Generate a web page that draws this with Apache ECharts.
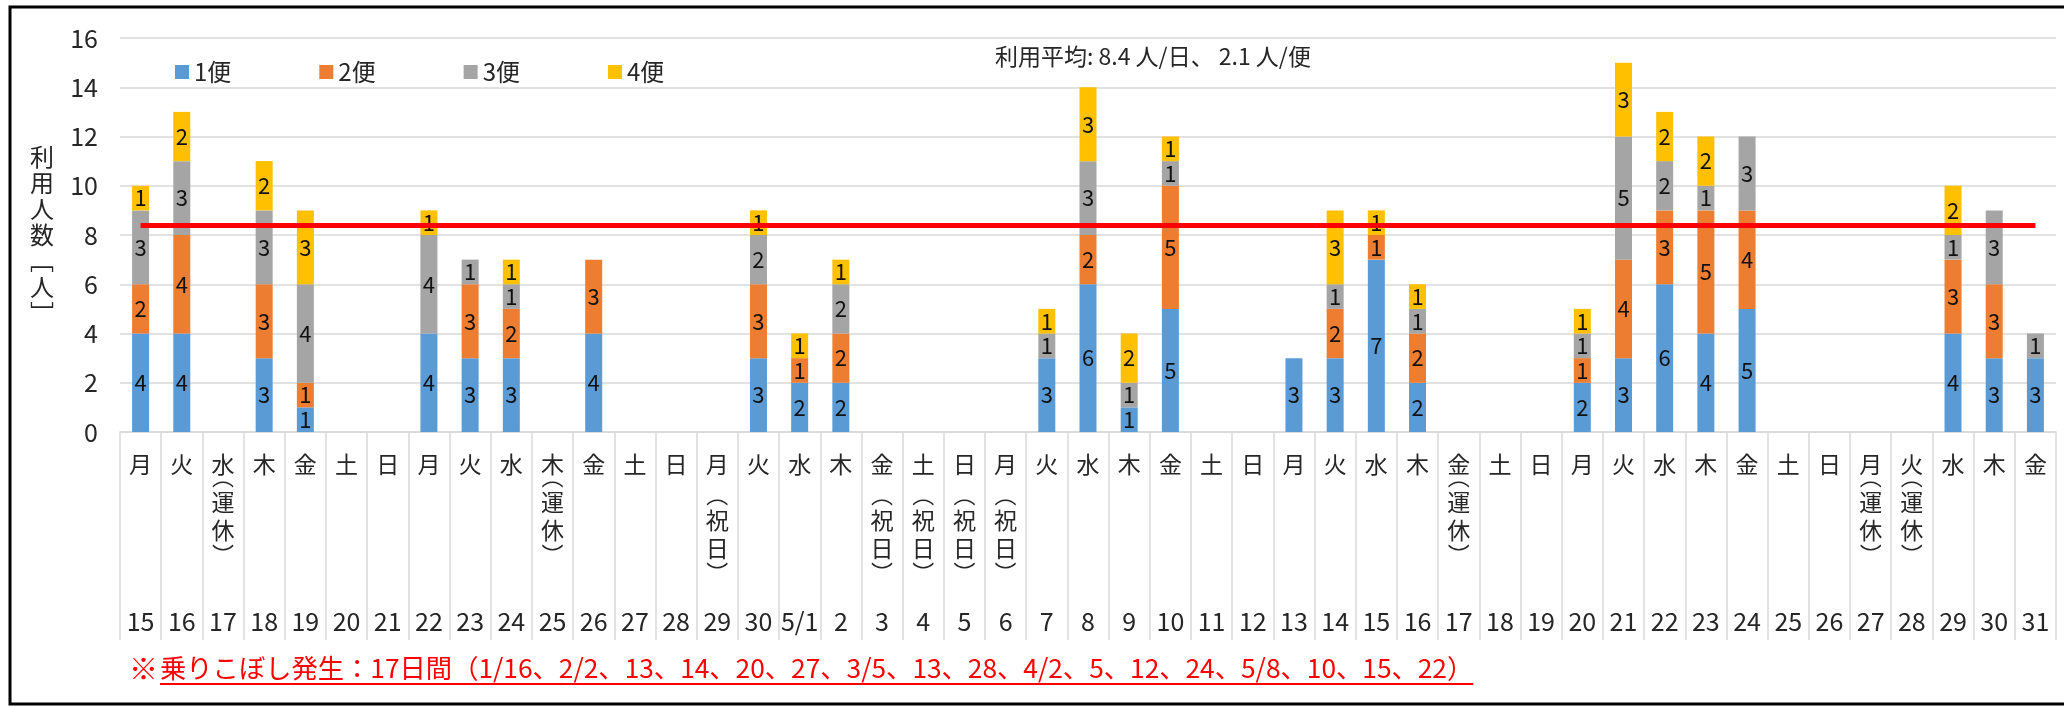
<!DOCTYPE html>
<html>
<head>
<meta charset="utf-8">
<script src="https://cdn.jsdelivr.net/npm/echarts@6/dist/echarts.min.js"></script>
<style>
  html, body { margin: 0; padding: 0; background: #fff; }
  #chart { width: 2064px; height: 707px; }
</style>
</head>
<body>
<div id="chart"></div>
<script>
// Dates (4/15 – 5/31) shown along the bottom of the category axis
const dates = ['15','16','17','18','19','20','21','22','23','24','25','26','27','28','29','30',
  '5/1','2','3','4','5','6','7','8','9','10','11','12','13','14','15','16','17','18','19','20',
  '21','22','23','24','25','26','27','28','29','30','31'];
const weekdays = ['月','火','水','木','金','土','日','月','火','水','木','金','土','日',
  '月','火','水','木','金','土','日','月','火','水','木','金','土','日',
  '月','火','水','木','金','土','日','月','火','水','木','金','土','日',
  '月','火','水','木','金'];
const notes = ['','','運休','','','','','','','','運休','','','','祝日','','','','祝日','祝日','祝日','祝日',
  '','','','','','','','','','','運休','','','','','','','','','','運休','運休','','',''];

// Passengers per departure (1便〜4便)
const flight1 = [4,4,0,3,1,0,0,4,3,3,0,4,0,0,0,3,2,2,0,0,0,0,3,6,1,5,0,0,3,3,7,2,0,0,0,2,3,6,4,5,0,0,0,0,4,3,3];
const flight2 = [2,4,0,3,1,0,0,0,3,2,0,3,0,0,0,3,1,2,0,0,0,0,0,2,0,5,0,0,0,2,1,2,0,0,0,1,4,3,5,4,0,0,0,0,3,3,0];
const flight3 = [3,3,0,3,4,0,0,4,1,1,0,0,0,0,0,2,0,2,0,0,0,0,1,3,1,1,0,0,0,1,0,1,0,0,0,1,5,2,1,3,0,0,0,0,1,3,1];
const flight4 = [1,2,0,2,3,0,0,1,0,1,0,0,0,0,0,1,1,1,0,0,0,0,1,3,2,1,0,0,0,3,1,1,0,0,0,1,3,2,2,0,0,0,0,0,2,0,0];

const seriesNames = ['1便','2便','3便','4便'];
const seriesColors = ['#5B9BD5','#ED7D31','#A5A5A5','#FFC000'];
const avgPerDay = 8.4;
const avgPerFlight = 2.1;
const yTicks = { min: 0, max: 16, interval: 2 };

const footHead = '※';
const footBody = '乗りこぼし発生：17日間（1/16、2/2、13、14、20、27、3/5、13、28、4/2、5、12、24、5/8、10、15、22）';

const FONT = '"Noto Sans CJK JP", "Noto Sans", sans-serif';
const TEXT = '#262626';

const chart = echarts.init(document.getElementById('chart'), null, { renderer: 'canvas' });

function measure(text, size) {
  const c = document.createElement('canvas').getContext('2d');
  c.font = size + 'px ' + FONT;
  return c.measureText(text).width;
}

const footSize = 26.3;
const footX = 160;
const footW = measure(footBody, footSize);

const barLabel = {
  show: true,
  position: 'inside',
  color: '#111',
  fontSize: 22,
  fontFamily: FONT,
  formatter: p => (p.value ? String(p.value) : '')
};

const seriesData = [flight1, flight2, flight3, flight4];
const series = seriesData.map((d, i) => ({
  name: seriesNames[i],
  type: 'bar',
  stack: 'total',
  barWidth: 17,
  data: d,
  itemStyle: { color: seriesColors[i] },
  label: barLabel,
  emphasis: { disabled: true }
}));

// Daily average line across the period
series[3].markLine = {
  silent: true,
  symbol: 'none',
  label: { show: false },
  lineStyle: { color: '#FF0000', width: 5, type: 'solid' },
  data: [[{ coord: [0, avgPerDay] }, { coord: [dates.length - 1, avgPerDay] }]]
};

function noteText(v, i) {
  const n = notes[i];
  if (!n) return '';
  const chars = n.split('');
  const body = '{p|︵}\n' + chars.map(c => '{c|' + c + '}').join('\n') + '\n{q|︶}';
  return n === '祝日' ? '{s| }\n' + body : body;
}

const gridLine = '#D9D9D9';

const option = {
  animation: false,
  backgroundColor: '#fff',
  textStyle: { fontFamily: FONT },
  title: {
    text: '利用平均: ' + avgPerDay + ' 人/日、 ' + avgPerFlight + ' 人/便',
    left: 990,
    top: 40,
    textStyle: { fontSize: 23, fontWeight: 'normal', color: TEXT, fontFamily: FONT }
  },
  legend: {
    left: 170,
    top: 55,
    itemWidth: 14,
    itemHeight: 14,
    itemGap: 88,
    icon: 'rect',
    textStyle: { fontSize: 24, color: TEXT, fontFamily: FONT },
    data: seriesNames
  },
  grid: { left: 120, right: 8, top: 38, bottom: 275, containLabel: false },
  xAxis: [
    {
      type: 'category',
      data: dates,
      axisLine: { lineStyle: { color: gridLine, width: 1.5 } },
      axisTick: { show: true, interval: 0, length: 208, lineStyle: { color: gridLine, width: 1.5 } },
      axisLabel: {
        interval: 0, margin: 21, fontSize: 23, color: TEXT, fontFamily: FONT,
        formatter: (v, i) => weekdays[i]
      }
    },
    {
      type: 'category',
      data: dates,
      position: 'bottom',
      offset: 0,
      axisLine: { show: false },
      axisTick: { show: false },
      axisLabel: {
        interval: 0, margin: 44, color: TEXT, fontFamily: FONT,
        formatter: noteText,
        rich: {
          p: { fontSize: 22, lineHeight: 12, color: TEXT, fontFamily: FONT, verticalAlign: 'bottom' },
          q: { fontSize: 22, lineHeight: 12, color: TEXT, fontFamily: FONT, verticalAlign: 'top' },
          c: { fontSize: 23, lineHeight: 28, color: TEXT, fontFamily: FONT },
          s: { fontSize: 10, lineHeight: 18 }
        }
      }
    },
    {
      type: 'category',
      data: dates,
      position: 'bottom',
      offset: 0,
      axisLine: { show: false },
      axisTick: { show: false },
      axisLabel: {
        interval: 0, margin: 177, fontSize: 25, color: TEXT, fontFamily: FONT
      }
    }
  ],
  yAxis: {
    type: 'value',
    min: yTicks.min,
    max: yTicks.max,
    interval: yTicks.interval,
    name: '利\n用\n人\n数\n﹇\n人\n﹈',
    nameLocation: 'middle',
    nameRotate: 0,
    nameGap: 66,
    nameTextStyle: { fontSize: 24, color: TEXT, fontFamily: FONT, lineHeight: 26 },
    axisLine: { show: false },
    axisTick: { show: false },
    axisLabel: { margin: 22, fontSize: 25, color: TEXT, fontFamily: FONT },
    splitLine: { lineStyle: { color: gridLine, width: 1.5 } }
  },
  graphic: [
    {
      type: 'rect',
      silent: true,
      shape: { x: 10, y: 7, width: 2070, height: 697 },
      style: { fill: null, stroke: '#000', lineWidth: 3 }
    },
    {
      type: 'text',
      silent: true,
      left: 129,
      top: 654,
      style: { text: footHead, fontSize: 29, fill: '#FF0000', fontFamily: FONT, fontWeight: 'bold' }
    },
    {
      type: 'text',
      silent: true,
      left: footX,
      top: 655,
      style: { text: footBody, fontSize: footSize, fill: '#FF0000', fontFamily: FONT }
    },
    {
      type: 'line',
      silent: true,
      shape: { x1: footX, y1: 684, x2: footX + footW, y2: 684 },
      style: { stroke: '#FF0000', lineWidth: 2 }
    }
  ],
  series: series
};

chart.setOption(option);
</script>
</body>
</html>
